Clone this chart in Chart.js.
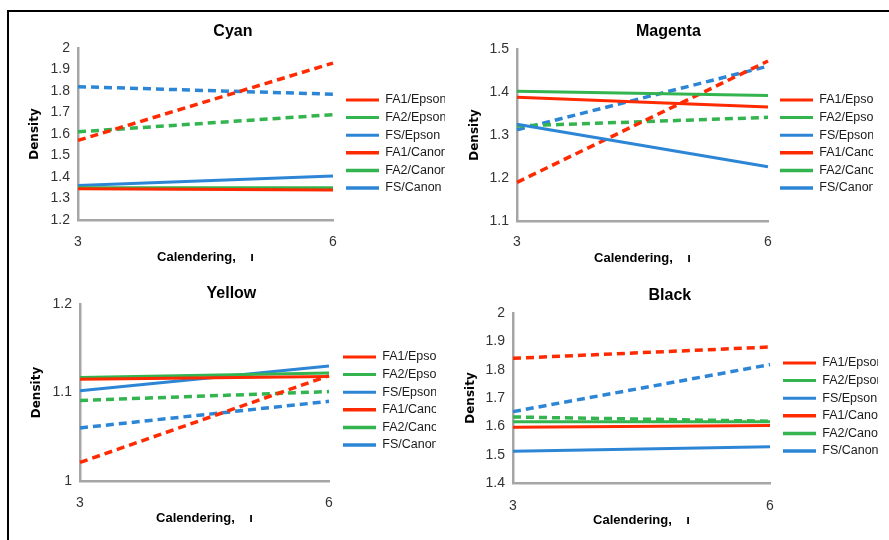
<!DOCTYPE html>
<html>
<head>
<meta charset="utf-8">
<script src="https://cdn.jsdelivr.net/npm/chart.js@4.4.1/dist/chart.umd.min.js"></script>
<style>
  html, body { margin: 0; padding: 0; background: #fff; overflow: hidden; }
  body { width: 889px; height: 540px; position: relative; }
  .panel { position: absolute; overflow: hidden; }
  .panel canvas { display: block; }
  .frame-top { position: absolute; left: 7px; top: 10px; width: 882px; height: 2px; background: #000; }
  .frame-left { position: absolute; left: 7px; top: 10px; width: 2px; height: 530px; background: #000; }
</style>
</head>
<body>
<div class="panel" id="cyanPanel"><canvas id="cyanChart"></canvas></div>
<div class="panel" id="magentaPanel"><canvas id="magentaChart"></canvas></div>
<div class="panel" id="yellowPanel"><canvas id="yellowChart"></canvas></div>
<div class="panel" id="blackPanel"><canvas id="blackChart"></canvas></div>
<div class="frame-top"></div>
<div class="frame-left"></div>
<script>
// data
const xLabels = ['3', '6']
const seriesNames = ['FA1/Epson', 'FA2/Epson', 'FS/Epson', 'FA1/Canon', 'FA2/Canon', 'FS/Canon']

const cyanDensity = [[1.345, 1.34], [1.35, 1.35], [1.36, 1.405], [1.57, 1.93], [1.61, 1.69], [1.82, 1.785]]
const magentaDensity = [[1.388, 1.365], [1.402, 1.392], [1.325, 1.226], [1.19, 1.472], [1.321, 1.341], [1.312, 1.46]]
const yellowDensity = [[1.115, 1.118], [1.117, 1.122], [1.102, 1.13], [1.021, 1.119], [1.091, 1.101], [1.06, 1.09]]
const blackDensity = [[1.597, 1.603], [1.616, 1.616], [1.512, 1.528], [1.84, 1.88], [1.633, 1.618], [1.652, 1.818]]

const cyanRange = [1.2, 2]
const magentaRange = [1.1, 1.5]
const yellowRange = [1, 1.2]
const blackRange = [1.4, 2]

// styles
const red = '#ff2a00'
const green = '#33b44f'
const blue = '#2d86d5'
const seriesColors = [red, green, blue, red, green, blue]
const seriesDashed = [false, false, false, true, true, true]
const axisGray = '#a6a6a6'

Chart.defaults.font.family = "'Liberation Sans', sans-serif"

// where each panel sits on the page
const cyanBox = { id: 'cyanPanel', left: 8, top: 12, height: 258, clipRight: 445, titleX: 233, titleY: 32,
  area: [78, 333, 48, 220], yTitleX: 35, xTickY: 242, xTitleY: 257, legendX: 346, legendY: 100 }
const magentaBox = { id: 'magentaPanel', left: 445, top: 12, height: 258, clipRight: 873, titleX: 677, titleY: 32,
  area: [517, 768, 49, 221], yTitleX: 475, xTickY: 242, xTitleY: 258, legendX: 780, legendY: 100 }
const yellowBox = { id: 'yellowPanel', left: 8, top: 270, height: 270, clipRight: 436, titleX: 237, titleY: 294,
  area: [80, 329, 304, 481], yTitleX: 37, xTickY: 503, xTitleY: 518, legendX: 343, legendY: 357 }
const blackBox = { id: 'blackPanel', left: 445, top: 270, height: 270, clipRight: 878, titleX: 670, titleY: 296,
  area: [513, 770, 313, 483], yTitleX: 471, xTickY: 506, xTitleY: 520, legendX: 783, legendY: 363 }

const legendFontSize = 12.5
const legendPad = 5.1
const legendLine = 33

// widest legend text, to work out the legend box width
var measure = document.createElement('canvas').getContext('2d')
measure.font = legendFontSize + "px 'Liberation Sans', sans-serif"
var widestLabel = 0
for (var i = 0; i < seriesNames.length; i++) {
	widestLabel = Math.max(widestLabel, measure.measureText(seriesNames[i]).width)
}

function tickText(value) {
	return String(Math.round(value * 10) / 10)
}

function makePanel(box, title, values, range) {
	var W = 2 * (box.titleX - box.left)
	var H = box.height
	var wrap = document.getElementById(box.id)
	wrap.style.left = box.left + 'px'
	wrap.style.top = box.top + 'px'
	wrap.style.width = (box.clipRight - box.left) + 'px'
	wrap.style.height = H + 'px'
	var canvas = wrap.querySelector('canvas')
	canvas.width = W
	canvas.height = H
	canvas.style.width = W + 'px'
	canvas.style.height = H + 'px'

	var aL = box.area[0] - box.left
	var aR = box.area[1] - box.left
	var aT = box.area[2] - box.top
	var aB = box.area[3] - box.top

	var titlePadTop = box.titleY - box.top - 9.6
	var titlePadBottom = aT - titlePadTop - 19.2

	var gap = box.legendX - box.area[1] - legendPad
	var wanted = W - aR - gap
	var natural = legendPad + legendLine + legendFontSize / 2 + widestLabel + 10
	var padRight = Math.max(0, wanted - natural)
	var legendSpacer = box.legendY - box.top - legendPad - legendFontSize / 2

	var datasets = seriesNames.map(function (name, i) {
		return {
			label: name,
			data: values[i],
			borderColor: seriesColors[i],
			backgroundColor: seriesColors[i],
			borderWidth: seriesDashed[i] ? 3.5 : 3,
			borderDash: seriesDashed[i] ? [8, 5] : [],
			pointRadius: 0,
			tension: 0,
			xAxisID: 'x',
			yAxisID: 'y'
		}
	})

	return new Chart(canvas, {
		type: 'line',
		data: { labels: xLabels, datasets: datasets },
		options: {
			responsive: false,
			animation: false,
			events: [],
			layout: { padding: { left: 0, top: 0, right: padRight, bottom: 0 } },
			plugins: {
				title: {
					display: true,
					text: title,
					color: '#000',
					font: { size: 16, weight: 'bold' },
					padding: { top: titlePadTop, bottom: titlePadBottom }
				},
				legend: {
					position: 'right',
					align: 'start',
					maxWidth: wanted - padRight,
					title: { display: true, text: ' ', font: { size: 1, lineHeight: 1 }, padding: { top: legendSpacer - 1, bottom: 0 } },
					labels: {
						usePointStyle: true,
						pointStyle: 'line',
						pointStyleWidth: legendLine,
						padding: legendPad,
						color: '#1a1a1a',
						font: { size: legendFontSize }
					}
				},
				tooltip: { enabled: false }
			},
			scales: {
				x: {
					type: 'category',
					offset: false,
					grid: { display: false, drawTicks: false },
					border: { display: true, color: axisGray, width: 2.5 },
					ticks: { padding: box.xTickY - box.area[3] - 8.4, color: '#333', font: { size: 14 }, maxRotation: 0, autoSkip: false },
					title: {
						display: true,
						text: 'Calendering,    ı',
						color: '#000',
						font: { size: 13, weight: 'bold' },
						padding: { top: 0, bottom: H - (box.xTitleY - box.top) - 7.8 }
					},
					afterFit: function (s) { s.height = H - aB }
				},
				y: {
					min: range[0],
					max: range[1],
					grid: { display: false, drawTicks: false },
					border: { display: true, color: axisGray, width: 2.5 },
					ticks: { stepSize: 0.1, padding: 8, color: '#333', font: { size: 14 }, autoSkip: false, callback: tickText },
					title: {
						display: true,
						text: 'Density',
						color: '#000',
						font: { family: "'DejaVu Sans', sans-serif", size: 12, weight: 'bold' },
						padding: { top: box.yTitleX - box.left - 7.2, bottom: 0 }
					},
					afterFit: function (s) { s.width = aL }
				},
				gap: {
					type: 'linear',
					position: 'right',
					display: true,
					grid: { display: false, drawTicks: false },
					border: { display: false },
					ticks: { display: false },
					afterFit: function (s) { s.width = gap }
				}
			}
		}
	})
}

var cyanChart = makePanel(cyanBox, 'Cyan', cyanDensity, cyanRange)
var magentaChart = makePanel(magentaBox, 'Magenta', magentaDensity, magentaRange)
var yellowChart = makePanel(yellowBox, 'Yellow', yellowDensity, yellowRange)
var blackChart = makePanel(blackBox, 'Black', blackDensity, blackRange)
</script>
</body>
</html>
